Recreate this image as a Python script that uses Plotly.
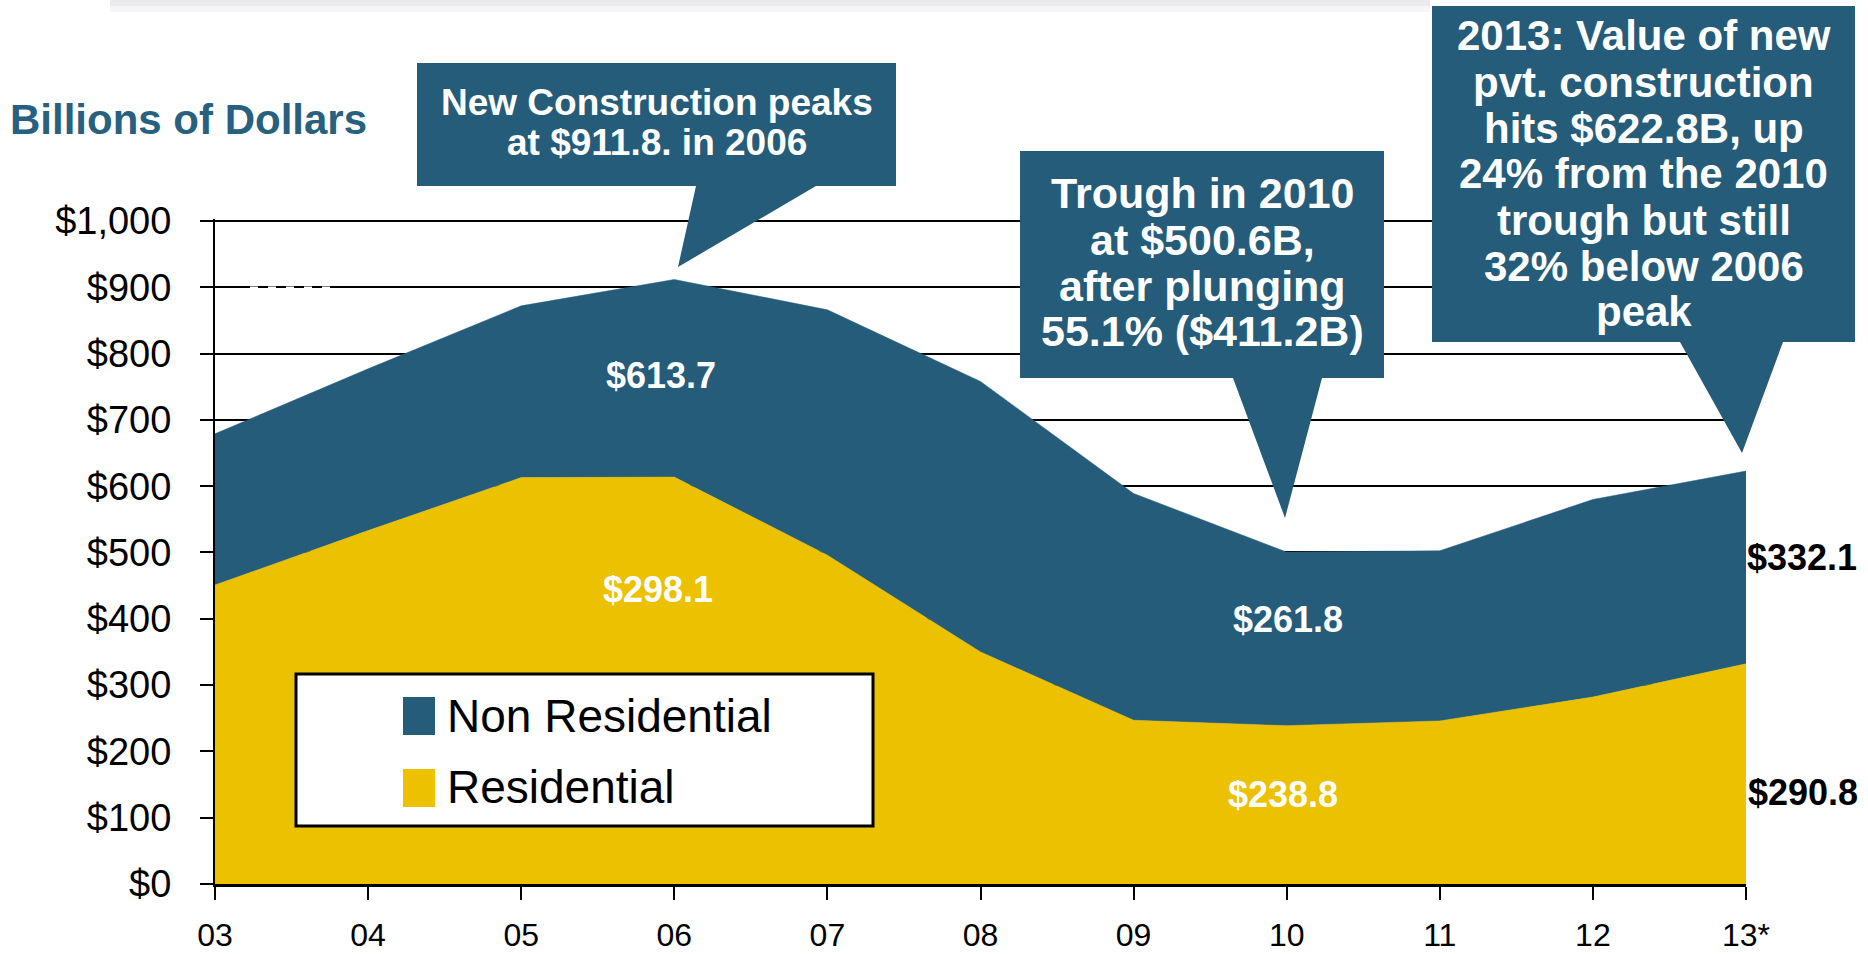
import plotly.graph_objects as go

# ---------------- data ----------------
years = ["03", "04", "05", "06", "07", "08", "09", "10", "11", "12", "13*"]
residential = [451, 533, 613, 613.7, 496, 350, 247, 238.8, 246, 282, 332.1]
non_residential = [228, 244, 259, 298.1, 370, 408, 342, 261.8, 256.6, 298, 290.8]
y_tick_vals = [0, 100, 200, 300, 400, 500, 600, 700, 800, 900, 1000]
y_tick_text = ["$0", "$100", "$200", "$300", "$400", "$500", "$600", "$700",
               "$800", "$900", "$1,000"]

BLUE = "#245C7A"
YELLOW = "#EBC100"
TITLE_BLUE = "#28607F"
FONT = "Arial, Liberation Sans, sans-serif"

FW, FH = 1868, 954
L, R, T, B = 215, 1746, 219, 884   # plot area in pixels


def px(x):
    return (x - L) / (R - L)


def py(y):
    return (B - y) / (B - T)


xs = list(range(len(years)))

fig = go.Figure()
fig.add_trace(go.Scatter(
    x=xs, y=residential, name="Residential", stackgroup="one",
    mode="lines", line=dict(width=0.5, color=YELLOW), fillcolor=YELLOW,
    hoverinfo="x+y"))
fig.add_trace(go.Scatter(
    x=xs, y=non_residential, name="Non Residential", stackgroup="one",
    mode="lines", line=dict(width=0.5, color=BLUE), fillcolor=BLUE,
    hoverinfo="x+y"))

shapes = []
annotations = []


def callout(box, tail, lines, size):
    x0, y0, x1, y1 = box
    b1, tip, b2 = tail
    pts = [(x0, y0), (x1, y0), (x1, y1), (b2, y1), tip, (b1, y1), (x0, y1)]
    path = "M " + " L ".join(f"{px(a):.5f},{py(b):.5f}" for a, b in pts) + " Z"
    shapes.append(dict(type="path", xref="paper", yref="paper", path=path,
                       fillcolor=BLUE, line=dict(width=0), layer="above"))
    cx = (x0 + x1) / 2
    for text, yc in lines:
        annotations.append(dict(
            x=px(cx), y=py(yc), xref="paper", yref="paper", text=f"<b>{text}</b>",
            showarrow=False, xanchor="center", yanchor="middle",
            font=dict(family=FONT, size=size, color="white")))


callout((417, 63, 896, 186), (696, (678, 267), 816),
        [("New Construction peaks", 102), ("at $911.8. in 2006", 143)], 37)
callout((1020, 151, 1384, 378), (1233, (1285, 518), 1322),
        [("Trough in 2010", 193), ("at $500.6B,", 240), ("after plunging", 286),
         ("55.1% ($411.2B)", 331)], 43)
callout((1432, 6, 1855, 342), (1680, (1742, 453), 1783),
        [("2013: Value of new", 36), ("pvt. construction", 82), ("hits $622.8B, up", 128),
         ("24% from the 2010", 174), ("trough but still", 220), ("32% below 2006", 266),
         ("peak", 311)], 42)

# small white dash artefact on the $900 gridline
shapes.append(dict(type="line", xref="paper", yref="paper",
                   x0=px(250), x1=px(333), y0=py(288), y1=py(288),
                   line=dict(color="white", width=3, dash="8px,10px"), layer="above"))

# faint header bar at the top of the slide
shapes.append(dict(type="rect", xref="paper", yref="paper",
                   x0=px(110), x1=px(1430), y0=py(0), y1=py(6),
                   fillcolor="rgba(205,205,212,0.40)", line=dict(width=0), layer="above"))
shapes.append(dict(type="rect", xref="paper", yref="paper",
                   x0=px(110), x1=px(1430), y0=py(6), y1=py(12),
                   fillcolor="rgba(225,225,230,0.30)", line=dict(width=0), layer="above"))

# legend (drawn manually)
shapes.append(dict(type="rect", xref="paper", yref="paper",
                   x0=px(296), x1=px(873), y0=py(674), y1=py(826),
                   fillcolor="white", line=dict(color="black", width=3), layer="above"))
shapes.append(dict(type="rect", xref="paper", yref="paper",
                   x0=px(403), x1=px(435), y0=py(697), y1=py(735),
                   fillcolor=BLUE, line=dict(width=0), layer="above"))
shapes.append(dict(type="rect", xref="paper", yref="paper",
                   x0=px(403), x1=px(435), y0=py(769), y1=py(807),
                   fillcolor=YELLOW, line=dict(width=0), layer="above"))
for text, yc in [("Non Residential", 716), ("Residential", 787)]:
    annotations.append(dict(x=px(445), y=py(yc), xref="paper", yref="paper", text=text,
                            showarrow=False, xanchor="left", yanchor="middle",
                            font=dict(family=FONT, size=46, color="black")))

# title
annotations.append(dict(x=px(8), y=py(119), xref="paper", yref="paper",
                        text="<b>Billions of Dollars</b>", showarrow=False,
                        xanchor="left", yanchor="middle",
                        font=dict(family=FONT, size=42, color=TITLE_BLUE)))

# value labels
value_labels = [
    ("$613.7", 661, 375, "white", "center"),
    (f"${non_residential[3]:.1f}", 658, 589, "white", "center"),
    (f"${non_residential[7]:.1f}", 1288, 619, "white", "center"),
    (f"${residential[7]:.1f}", 1283, 794, "white", "center"),
    (f"${residential[10]:.1f}", 1745, 557, "black", "left"),
    (f"${non_residential[10]:.1f}", 1746, 792, "black", "left"),
]
for text, x, y, color, anchor in value_labels:
    annotations.append(dict(x=px(x), y=py(y), xref="paper", yref="paper",
                            text=f"<b>{text}</b>", showarrow=False,
                            xanchor=anchor, yanchor="middle",
                            font=dict(family=FONT, size=36, color=color)))

fig.update_layout(
    width=FW, height=FH, autosize=False,
    margin=dict(l=L, r=FW - R, t=T, b=FH - B, pad=0),
    paper_bgcolor="white", plot_bgcolor="white",
    showlegend=False,
    shapes=shapes, annotations=annotations,
    xaxis=dict(range=[0, 10], tickvals=xs, ticktext=years, showgrid=False,
               zeroline=False, showline=True, linecolor="black", linewidth=3,
               ticks="outside", ticklen=13, tickwidth=2, tickcolor="black",
               ticklabelstandoff=8, automargin=False,
               tickfont=dict(family=FONT, size=32, color="black"), fixedrange=True),
    yaxis=dict(range=[0, 1003], tickvals=y_tick_vals, ticktext=y_tick_text,
               showgrid=True, gridcolor="black", gridwidth=2, zeroline=False,
               showline=True, linecolor="black", linewidth=2,
               ticks="outside", ticklen=13, tickwidth=2, tickcolor="black",
               ticklabelstandoff=21, automargin=False,
               tickfont=dict(family=FONT, size=38, color="black"), fixedrange=True),
)

fig.write_html(
    "out.html",
    config={"displayModeBar": False},
    post_script="document.body.style.margin='0px';document.body.style.overflow='hidden';",
)
